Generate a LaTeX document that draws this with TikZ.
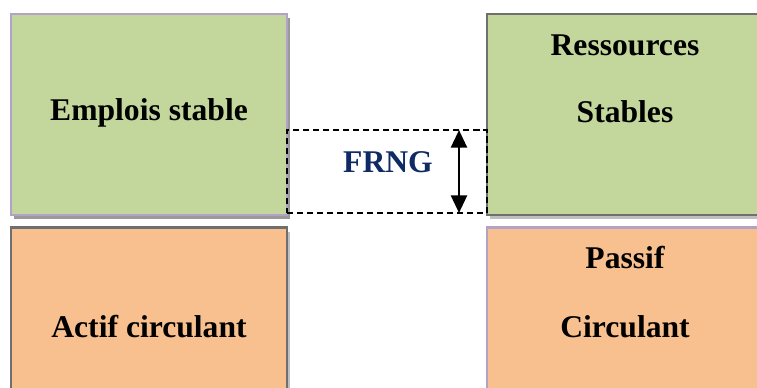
\documentclass[tikz,border=0pt]{standalone}
\usepackage{fontspec}
\setmainfont{Liberation Serif}
\usetikzlibrary{shadows,arrows.meta}

\definecolor{vert}{HTML}{C3D69B}
\definecolor{orange}{HTML}{F9C08F}
\definecolor{lavande}{HTML}{B3A2C7}
\definecolor{gris}{HTML}{6F6F6F}
\definecolor{marine}{HTML}{0F2A64}

\tikzset{
  bloc/.style={minimum width=5.52cm, minimum height=4.02cm, inner sep=0pt, line width=1.4pt},
  ombre/.style={drop shadow={shadow xshift=0.06cm, shadow yshift=-0.08cm, fill=#1, opacity=1}},
  txt/.style={font=\fontsize{18}{22}\selectfont\bfseries, inner sep=0pt}
}

\begin{document}
\begin{tikzpicture}[x=0.02cm,y=-0.02cm]
\useasboundingbox (0,0) rectangle (757,387);
\clip (0,0) rectangle (757,387);

% blocs du haut
\node [bloc, fill=vert, draw=lavande, ombre=black!40] (emplois) at (149,114.5) {};
\node [bloc, fill=vert, draw=gris, ombre=black!25] (ressources) at (625,114.5) {};
% blocs du bas
\node [bloc, fill=orange, draw=gris, ombre=black!25] (actif) at (149,328) {};
\node [bloc, fill=orange, draw=lavande] (passif) at (625,328) {};

\node [txt] (t1) at (149,113) {Emplois stable};
\node [txt] (t2) at (625,45) {Ressources};
\node [txt] (t3) at (625,112) {Stables};
\node [txt] (t4) at (149,327) {Actif circulant};
\node [txt] (t5) at (625,258) {Passif};
\node [txt] (t6) at (625,327) {Circulant};

% fonds de roulement
\node [draw, line width=1pt, dash pattern=on 3.5pt off 2.2pt, minimum width=4cm, minimum height=1.66cm, inner sep=0pt] (frng) at (387,171.5) {};
\node [txt, text=marine] (t7) at (388,162) {FRNG};
\coordinate (haut) at (459,130);
\coordinate (bas) at (459,213);
\draw [{Stealth[length=10pt,width=9pt,inset=0pt]}-{Stealth[length=10pt,width=9pt,inset=0pt]}, line width=1.6pt] (haut) -- (bas);

\end{tikzpicture}
\end{document}
